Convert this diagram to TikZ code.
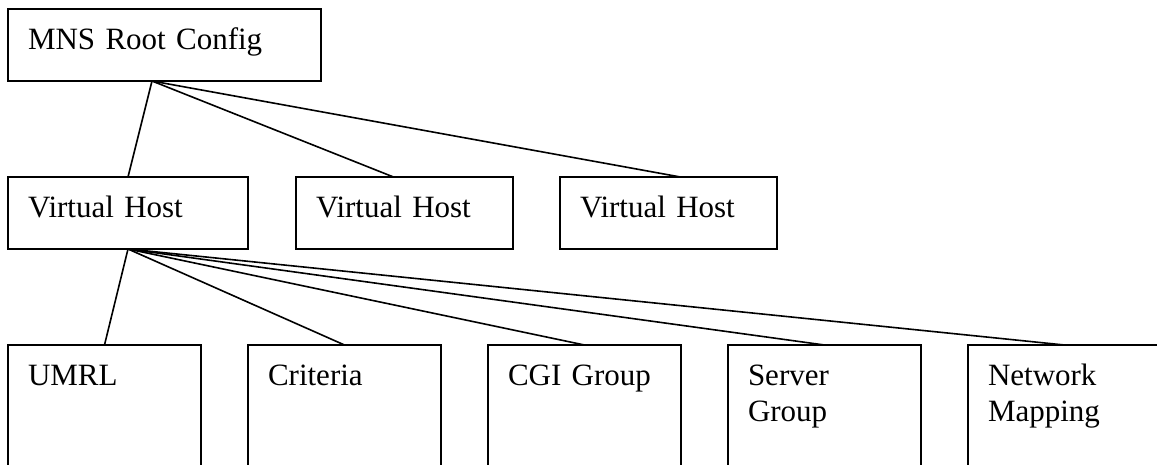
\documentclass[tikz,border=0pt]{standalone}
\usepackage{fontspec}
\setmainfont{Liberation Serif}
\usetikzlibrary{positioning}

\begin{document}
\begin{tikzpicture}[x=1pt, y=1pt, line width=1.6pt,
  box/.style={draw, anchor=north west, align=left, outer sep=0pt,
    inner xsep=20pt, inner ysep=0pt, text height=40pt,
    font=\fontsize{31}{36.5}\selectfont},
  hostbox/.style={box, text width=#1, text depth=32pt},
  leafbox/.style={box, text width=153pt, text depth=110pt}]
\useasboundingbox (0,0) rectangle (1157,-464);
% root and hosts
\node[hostbox=273pt] (root) at (8,-9) {MNS Root Config};
\node[hostbox=200pt] (host1) at (8,-177) {Virtual Host};
\node[hostbox=177pt, right=48pt of host1] (host2) {Virtual Host};
\node[hostbox=177pt, right=47pt of host2] (host3) {Virtual Host};
% leaves
\node[leafbox] (umrl) at (8,-345) {UMRL};
\node[leafbox, right=47pt of umrl] (criteria) {Criteria};
\node[leafbox, right=47pt of criteria] (cgi) {CGI Group};
\node[leafbox, right=47pt of cgi] (server) {Server\\Group};
\node[leafbox, right=47pt of server] (netmap) {Network\\Mapping};
% connectors
\coordinate (fork) at ([xshift=144pt]root.south west);
\draw (fork) -- (host1.north);
\draw (fork) -- ([xshift=-11pt]host2.north);
\draw (fork) -- ([xshift=12pt]host3.north);
\draw (host1.south) -- (umrl.north);
\draw (host1.south) -- (criteria.north);
\draw (host1.south) -- (cgi.north);
\draw (host1.south) -- (server.north);
\draw (host1.south) -- (netmap.north);
\end{tikzpicture}
\end{document}
